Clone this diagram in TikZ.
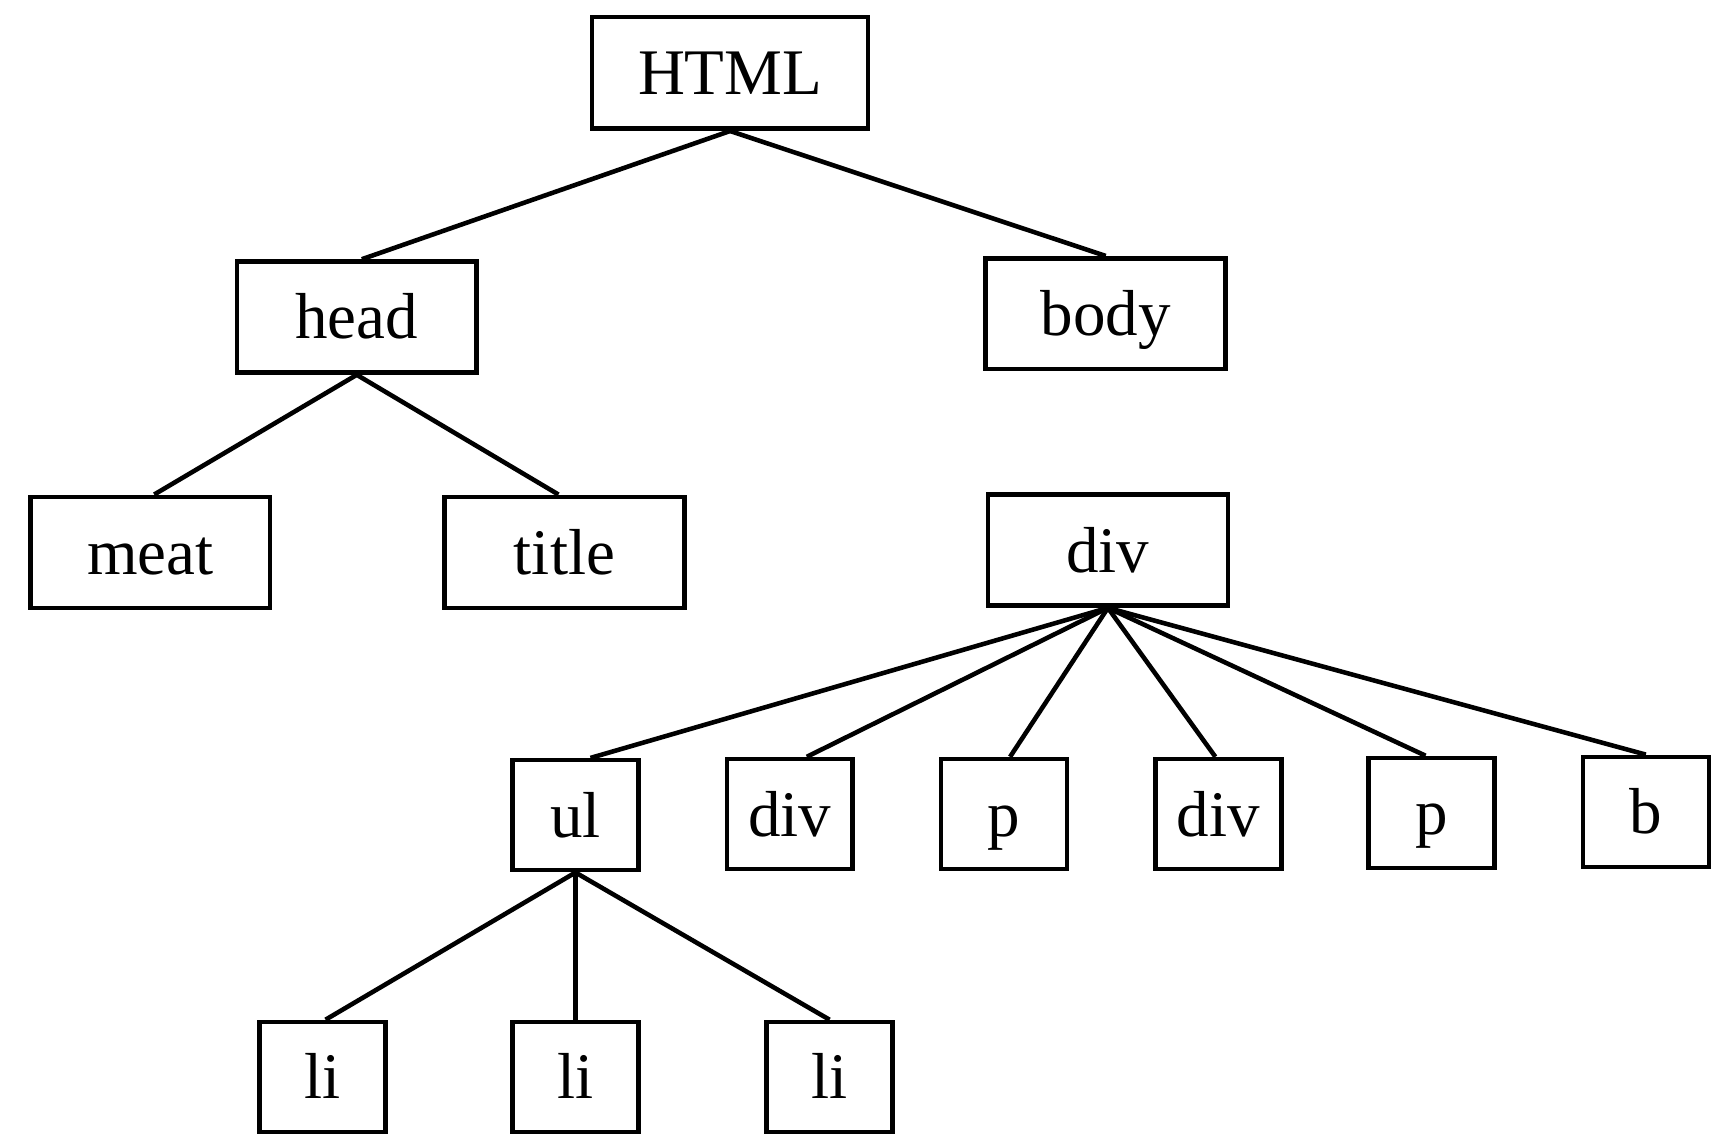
\documentclass[tikz,border=0pt]{standalone}
\usepackage{fontspec}
\setmainfont{Liberation Serif}
\begin{document}
\begin{tikzpicture}[x=0.011046cm,y=-0.011046cm,
  box/.style={draw,line width=1.3pt,rectangle,inner sep=0pt,
    font=\fontsize{18.5pt}{22pt}\selectfont,
    text height=13pt,text depth=0.5pt},
  wide/.style={box,minimum width=2.40cm,minimum height=1.11cm},
  small/.style={box,minimum width=1.26cm,minimum height=1.10cm},
  edge/.style={line width=1.3pt}]
\useasboundingbox[fill=white] (0,0) rectangle (1568,1027);
\node[box,minimum width=2.76cm,minimum height=1.116cm] (html) at (661,66) {HTML};
\node[wide] (head) at (323,287) {head};
\node[wide] (body) at (1001,284) {body};
\node[wide] (meat) at (136,500) {meat};
\node[wide] (title) at (511,500) {title};
\node[wide] (div) at (1003,498) {div};
\node[small] (ul) at (521,738) {ul};
\node[small] (div2) at (715,737) {div};
\node[small] (p1) at (909,737) {p};
\node[small] (div3) at (1103,737) {div};
\node[small] (p2) at (1296,736) {p};
\node[small] (b) at (1490,735) {b};
\node[small] (li1) at (292,975) {li};
\node[small] (li2) at (521,975) {li};
\node[small] (li3) at (751,975) {li};
\draw[edge] (html.south) -- ([xshift=0.05cm]head.north);
\draw[edge] (html.south) -- (body.north);
\draw[edge] (head.south) -- ([xshift=0.04cm]meat.north);
\draw[edge] (head.south) -- ([xshift=-0.06cm]title.north);
\draw[edge] (div.south) -- ([xshift=0.15cm]ul.north);
\draw[edge] (div.south) -- ([xshift=0.17cm]div2.north);
\draw[edge] (div.south) -- ([xshift=0.06cm]p1.north);
\draw[edge] (div.south) -- ([xshift=-0.03cm]div3.north);
\draw[edge] (div.south) -- ([xshift=-0.06cm]p2.north);
\draw[edge] (div.south) -- (b.north);
\draw[edge] (ul.south) -- ([xshift=0.03cm]li1.north);
\draw[edge] (ul.south) -- (li2.north);
\draw[edge] (ul.south) -- (li3.north);
\end{tikzpicture}
\end{document}
